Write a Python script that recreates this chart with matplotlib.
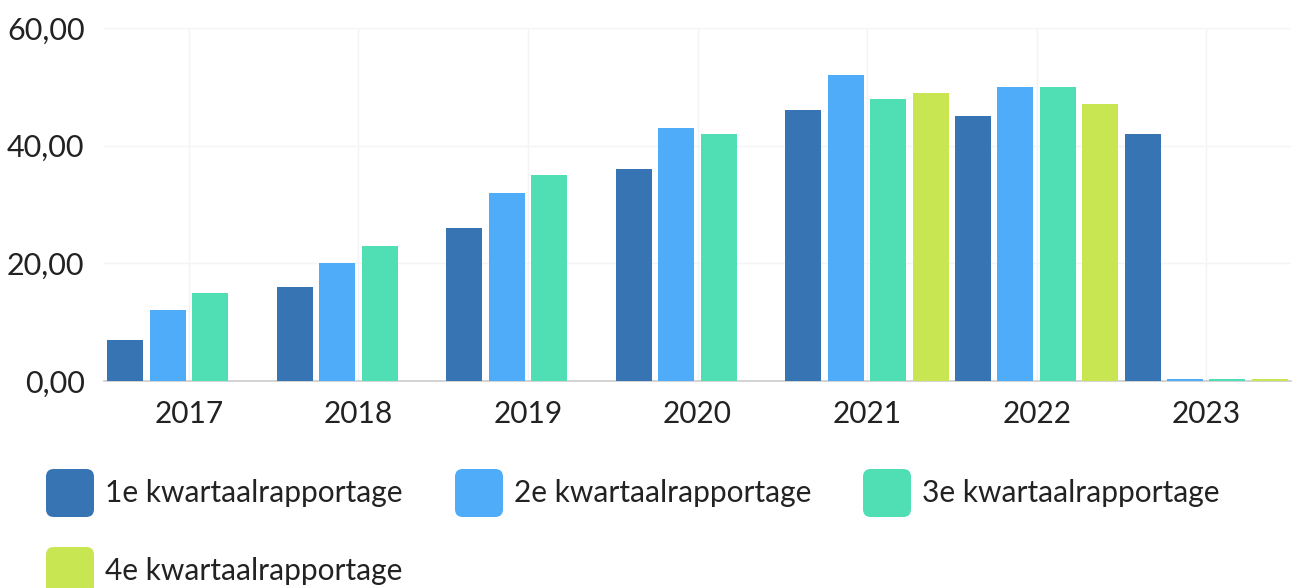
import matplotlib.pyplot as plt
import numpy as np
from matplotlib.patches import FancyBboxPatch

years = ["2017", "2018", "2019", "2020", "2021", "2022", "2023"]
series_names = [
    "1e kwartaalrapportage",
    "2e kwartaalrapportage",
    "3e kwartaalrapportage",
    "4e kwartaalrapportage",
]
q1 = [7, 16, 26, 36, 46, 45, 42]
q2 = [12, 20, 32, 43, 52, 50, 0.3]
q3 = [15, 23, 35, 42, 48, 50, 0.3]
q4 = [np.nan, np.nan, np.nan, np.nan, 49, 47, 0.3]
yticks = [0, 20, 40, 60]
ytick_labels = ["0,00", "20,00", "40,00", "60,00"]

colors = ["#3674b3", "#4eacf8", "#50dfb4", "#c8e651"]

plt.rcParams["font.family"] = ["Lato", "DejaVu Sans"]

W, H = 1296, 588
fig = plt.figure(figsize=(W / 100, H / 100), dpi=100)
ax = fig.add_axes([104 / W, (H - 381) / H, (1291 - 104) / W, (381 - 28) / H])

x = np.arange(len(years))
slot = 0.25
for j, vals in enumerate([q1, q2, q3, q4]):
    ax.bar(x + (j - 1.5) * slot, vals, width=slot * 0.85,
           color=colors[j], zorder=3)

ax.set_xlim(-0.5, len(years) - 0.5)
ax.set_ylim(0, 60)
ax.set_yticks(yticks)
ax.set_yticklabels(ytick_labels, fontsize=22)
ax.set_xticks(x)
ax.set_xticklabels(years, fontsize=21.5)
ax.tick_params(length=0, colors="#222222")
ax.tick_params(axis="x", pad=14)
ax.tick_params(axis="y", pad=14)
for lbl in ax.get_yticklabels():
    lbl.set_horizontalalignment("right")

ax.grid(True, color="#f2f4f5", linewidth=1, zorder=0)
for s in ["top", "right", "left"]:
    ax.spines[s].set_visible(False)
ax.spines["bottom"].set_color("#cccccc")
ax.spines["bottom"].set_linewidth(1.2)
ax.spines["bottom"].set_zorder(2)

# legend drawn by hand: 3 columns, wraps to a second row
col_x = [46, 455, 863]
row_y = [493, 571]
for k, name in enumerate(series_names):
    cx = col_x[k % 3]
    cy = row_y[k // 3]
    box = FancyBboxPatch((cx / W, (H - cy - 24) / H), 48 / W, 48 / H,
                         boxstyle="round,pad=0,rounding_size=0.006",
                         transform=fig.transFigure, facecolor=colors[k],
                         edgecolor="none", mutation_aspect=W / H)
    fig.patches.append(box)
    fig.text((cx + 59) / W, (H - cy) / H, name, fontsize=21.5,
             color="#222222", va="center", ha="left")

fig.savefig("out.png", dpi=100)
